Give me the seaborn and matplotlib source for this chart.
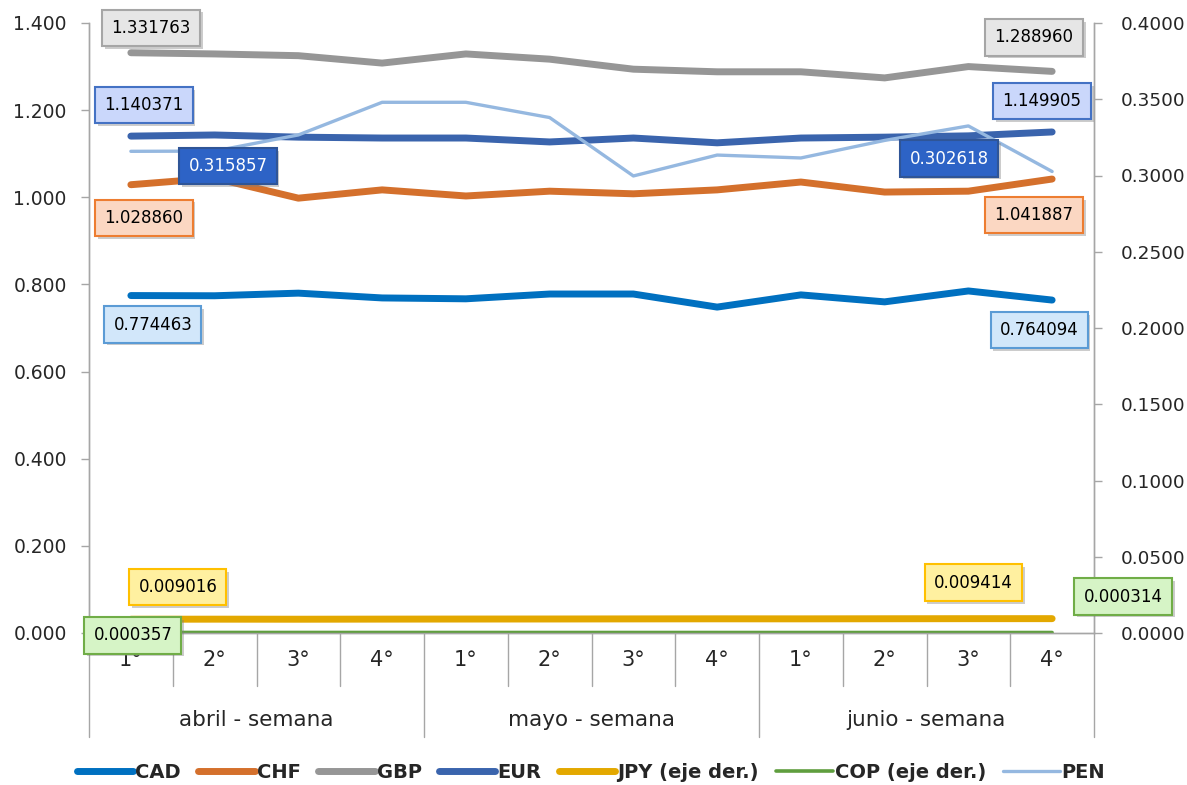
import numpy as np
import pandas as pd
import matplotlib
matplotlib.use("Agg")
import matplotlib.pyplot as plt
import matplotlib.patheffects as pe
from matplotlib.lines import Line2D
import seaborn as sns

# semanas y meses
weeks = ["1°", "2°", "3°", "4°"] * 3
months = ["abril - semana", "mayo - semana", "junio - semana"]

# eje izquierdo
cad = [0.774463, 0.774, 0.780, 0.769, 0.767, 0.778, 0.778, 0.748, 0.776, 0.760, 0.785, 0.764094]
chf = [1.028860, 1.044, 0.998, 1.017, 1.003, 1.014, 1.008, 1.017, 1.035, 1.012, 1.014, 1.041887]
gbp = [1.331763, 1.329, 1.325, 1.308, 1.329, 1.317, 1.294, 1.288, 1.288, 1.274, 1.300, 1.288960]
eur = [1.140371, 1.143, 1.138, 1.136, 1.136, 1.127, 1.136, 1.125, 1.136, 1.138, 1.141, 1.149905]
# eje derecho
jpy = [0.009016, 0.009071, 0.009034, 0.009102, 0.009155, 0.009187, 0.009248, 0.009301, 0.009280, 0.009342, 0.009395, 0.009414]
cop = [0.000357, 0.000352, 0.000348, 0.000341, 0.000336, 0.000331, 0.000327, 0.000322, 0.000319, 0.000317, 0.000315, 0.000314]
pen = [0.315857, 0.316, 0.3266, 0.348, 0.348, 0.338, 0.2997, 0.3134, 0.3115, 0.323, 0.3325, 0.302618]

idx = np.arange(len(weeks))

sns.set_style("white")
plt.rcParams['font.family'] = ['DejaVu Sans']

fig = plt.figure(figsize=(11.87, 7.85), dpi=100)
ax = fig.add_axes([89/1187, 1-633/785, (1094-89)/1187, 610/785])
ax2 = ax.twinx()

axis_gray = "#A6A6A6"

left_series = [("CAD", cad, "#0070C0", 5.0),
               ("CHF", chf, "#D4702C", 5.0),
               ("GBP", gbp, "#969696", 5.0),
               ("EUR", eur, "#3A64AD", 5.0)]
right_series = [("JPY (eje der.)", jpy, "#E3A800", 5.0),
                ("COP (eje der.)", cop, "#5F9E3E", 2.6),
                ("PEN", pen, "#95B8E0", 2.4)]

for name, vals, col, lw in left_series:
    sns.lineplot(x=idx, y=vals, ax=ax, color=col, linewidth=lw, solid_capstyle="round")
for name, vals, col, lw in right_series:
    sns.lineplot(x=idx, y=vals, ax=ax2, color=col, linewidth=lw, solid_capstyle="round")

ax.set_xlim(-0.5, len(weeks) - 0.5)
ax.set_ylim(0, 1.4)
ax2.set_ylim(0, 0.4)
ax.set_yticks(np.arange(0, 1.401, 0.2))
ax2.set_yticks(np.arange(0, 0.401, 0.05))
ax.set_yticklabels(["%.3f" % v for v in np.arange(0, 1.401, 0.2)])
ax2.set_yticklabels(["%.4f" % v for v in np.arange(0, 0.401, 0.05)])
ax.set_xticks([])
ax2.set_xticks([])
ax.set_xlabel("")
ax.set_ylabel("")
ax2.set_ylabel("")

for a in (ax, ax2):
    a.spines["top"].set_visible(False)
    for s in ("left", "right", "bottom"):
        a.spines[s].set_color(axis_gray)
        a.spines[s].set_linewidth(1.0)
ax.tick_params(axis="y", length=6, width=1, color=axis_gray, pad=10, labelsize=13.5, left=True)
ax2.tick_params(axis="y", length=6, width=1, color=axis_gray, pad=13, labelsize=13.3, right=True)

# category axis with two levels
trans = ax.get_xaxis_transform()
for i, w in enumerate(weeks):
    ax.text(i, -0.045, w, transform=trans, ha="center", va="center", fontsize=15)
for m, name in enumerate(months):
    ax.text(m * 4 + 1.5, -0.142, name, transform=trans, ha="center", va="center", fontsize=15.5)
for b in np.arange(-0.5, len(weeks), 1.0):
    long_line = (b + 0.5) % 4 == 0
    ax.plot([b, b], [0, -0.1705 if long_line else -0.0869], transform=trans,
            color=axis_gray, lw=1.0, clip_on=False)

# data labels
def label(a_src, xi, yv, text, dx, dy, face, edge, tcolor="black"):
    ann = ax2.annotate(text, xy=(xi, yv), xycoords=a_src.transData,
                       xytext=(dx, dy), textcoords="offset pixels",
                       ha="center", va="center", fontsize=12, color=tcolor, zorder=10,
                       bbox=dict(boxstyle="square,pad=0.55", fc=face, ec=edge, lw=1.5))
    ann.get_bbox_patch().set_path_effects(
        [pe.SimplePatchShadow(offset=(2, -2), shadow_rgbFace="#808080", alpha=0.4), pe.Normal()])

last = len(weeks) - 1
label(ax, 0, gbp[0], "%.6f" % gbp[0], 20, 25, "#E6E6E6", "#A6A6A6")
label(ax, last, gbp[-1], "%.6f" % gbp[-1], -18, 34, "#E6E6E6", "#A6A6A6")
label(ax, 0, eur[0], "%.6f" % eur[0], 13, 31, "#CAD7FB", "#4472C4")
label(ax, last, eur[-1], "%.6f" % eur[-1], -10, 31, "#CAD7FB", "#4472C4")
label(ax2, 0, pen[0], "%.6f" % pen[0], 97, -15, "#2D63C6", "#2F5597", "white")
label(ax2, last, pen[-1], "%.6f" % pen[-1], -103, 13, "#2D63C6", "#2F5597", "white")
label(ax, 0, chf[0], "%.6f" % chf[0], 13, -33, "#FBD7C2", "#ED7D31")
label(ax, last, chf[-1], "%.6f" % chf[-1], -18, -36, "#FBD7C2", "#ED7D31")
label(ax, 0, cad[0], "%.6f" % cad[0], 22, -29, "#D2E7FA", "#5B9BD5")
label(ax, last, cad[-1], "%.6f" % cad[-1], -13, -30, "#D2E7FA", "#5B9BD5")
label(ax2, 0, jpy[0], "%.6f" % jpy[0], 47, 32, "#FFF0A0", "#FFC000")
label(ax2, last, jpy[-1], "%.6f" % jpy[-1], -79, 36, "#FFF0A0", "#FFC000")
label(ax2, 0, cop[0], "%.6f" % cop[0], 2, -3, "#D6F4C6", "#70AD47")
label(ax2, last, cop[-1], "%.6f" % cop[-1], 71, 36, "#D6F4C6", "#70AD47")

handles = [Line2D([], [], color=c, lw=lw, solid_capstyle="round") for _, _, c, lw in left_series + right_series]
names = [n for n, _, _, _ in left_series + right_series]
fig.legend(handles, names, loc="center", bbox_to_anchor=(0.498, 0.016), ncol=7, frameon=False,
           prop={"weight": "bold", "size": 14}, handlelength=2.9, handletextpad=0.1, columnspacing=0.9)

fig.savefig("out.png", dpi=100)
